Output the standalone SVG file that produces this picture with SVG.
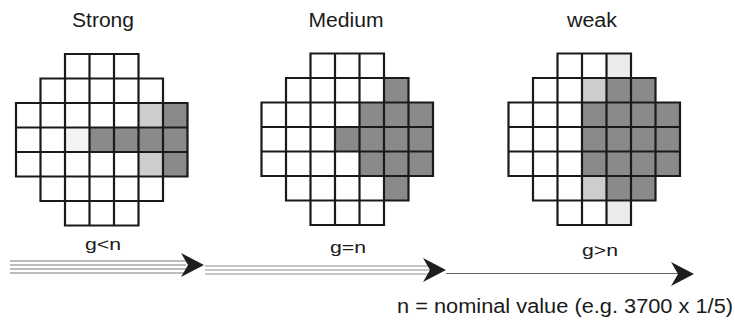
<svg xmlns="http://www.w3.org/2000/svg" xmlns:xlink="http://www.w3.org/1999/xlink" width="735" height="326" viewBox="0 0 735 326">
<style>
  .t{font-family:"Liberation Sans",Arial,sans-serif;fill:#1a1a1a;text-anchor:middle}
  .title{font-size:20px}
  .lab{font-size:16px}
  .note{font-size:20px;text-anchor:start}
  .d{fill:#8a8a8a}
  .l{fill:#cdcdcd}
  .v{fill:#ececec}
  .gl{fill:none;stroke:#1a1a1a;stroke-width:2.2;stroke-linecap:square}
  .ln{stroke:#a8a8a8;stroke-width:1.6;fill:none}
  .ln2{stroke:#b4b4b4;stroke-width:1.6;fill:none}
  .ln3{stroke:#666;stroke-width:1.2;fill:none}
  .ah{fill:#1e1e1e}
</style>
<defs>
  <path id="grid" class="gl" d="M49 0H122.5M24.5 24.5H147M0 49H171.5M0 73.5H171.5M0 98H171.5M0 122.5H171.5M24.5 147H147M49 171.5H122.5M0 49V122.5M24.5 24.5V147M49 0V171.5M73.5 0V171.5M98 0V171.5M122.5 0V171.5M147 24.5V147M171.5 49V122.5"/>
  <path id="head" d="M-23 -12 L0 0 L-23 12 L-16 0 Z"/>
</defs>
<rect width="735" height="326" fill="#fff"/>

<g id="strong">
  <text class="t title" x="103" y="27" textLength="62" lengthAdjust="spacingAndGlyphs">Strong</text>
  <g transform="translate(16,54)">
    <rect class="l" x="122.5" y="49" width="24.5" height="24.5"/>
    <rect class="d" x="147" y="49" width="24.5" height="24.5"/>
    <rect fill="#f4f4f4" x="49" y="73.5" width="24.5" height="24.5"/>
    <rect class="d" x="73.5" y="73.5" width="98" height="24.5"/>
    <rect class="l" x="122.5" y="98" width="24.5" height="24.5"/>
    <rect class="d" x="147" y="98" width="24.5" height="24.5"/>
    <use xlink:href="#grid"/>
  </g>
</g>

<g id="medium">
  <text class="t title" x="346" y="27" textLength="75" lengthAdjust="spacingAndGlyphs">Medium</text>
  <g transform="translate(261.5,53.5)">
    <rect class="d" x="122.5" y="24.5" width="24.5" height="24.5"/>
    <rect class="d" x="98" y="49" width="73.5" height="24.5"/>
    <rect class="d" x="73.5" y="73.5" width="98" height="24.5"/>
    <rect class="d" x="98" y="98" width="73.5" height="24.5"/>
    <rect class="d" x="122.5" y="122.5" width="24.5" height="24.5"/>
    <use xlink:href="#grid"/>
  </g>
</g>

<g id="weak">
  <text class="t title" x="592" y="27" textLength="50" lengthAdjust="spacingAndGlyphs">weak</text>
  <g transform="translate(508.5,53.5)">
    <rect class="v" x="98" y="0" width="24.5" height="24.5"/>
    <rect class="l" x="73.5" y="24.5" width="24.5" height="24.5"/>
    <rect class="d" x="98" y="24.5" width="49" height="24.5"/>
    <rect class="d" x="73.5" y="49" width="98" height="73.5"/>
    <rect class="l" x="73.5" y="122.5" width="24.5" height="24.5"/>
    <rect class="d" x="98" y="122.5" width="49" height="24.5"/>
    <rect class="v" x="98" y="147" width="24.5" height="24.5"/>
    <use xlink:href="#grid"/>
  </g>
</g>

<g id="connectors">
  <path class="ln" d="M10 261H186M10 265H186M10 269H186M10 273H186"/>
  <use xlink:href="#head" class="ah" transform="translate(204,265)"/>
  <path class="ln2" d="M205 266H430M205 270H430M205 274H430"/>
  <use xlink:href="#head" class="ah" transform="translate(446,270)"/>
  <path class="ln3" d="M446 273.5H680"/>
  <use xlink:href="#head" class="ah" transform="translate(694,274)"/>
  <text class="t lab" x="103" y="250" textLength="36" lengthAdjust="spacingAndGlyphs">g&lt;n</text>
  <text class="t lab" x="348" y="253" textLength="36" lengthAdjust="spacingAndGlyphs">g=n</text>
  <text class="t lab" x="600" y="256" textLength="36" lengthAdjust="spacingAndGlyphs">g&gt;n</text>
</g>

<text class="t note" x="397" y="313" textLength="336" lengthAdjust="spacingAndGlyphs">n = nominal value (e.g. 3700 x 1/5)</text>
</svg>
